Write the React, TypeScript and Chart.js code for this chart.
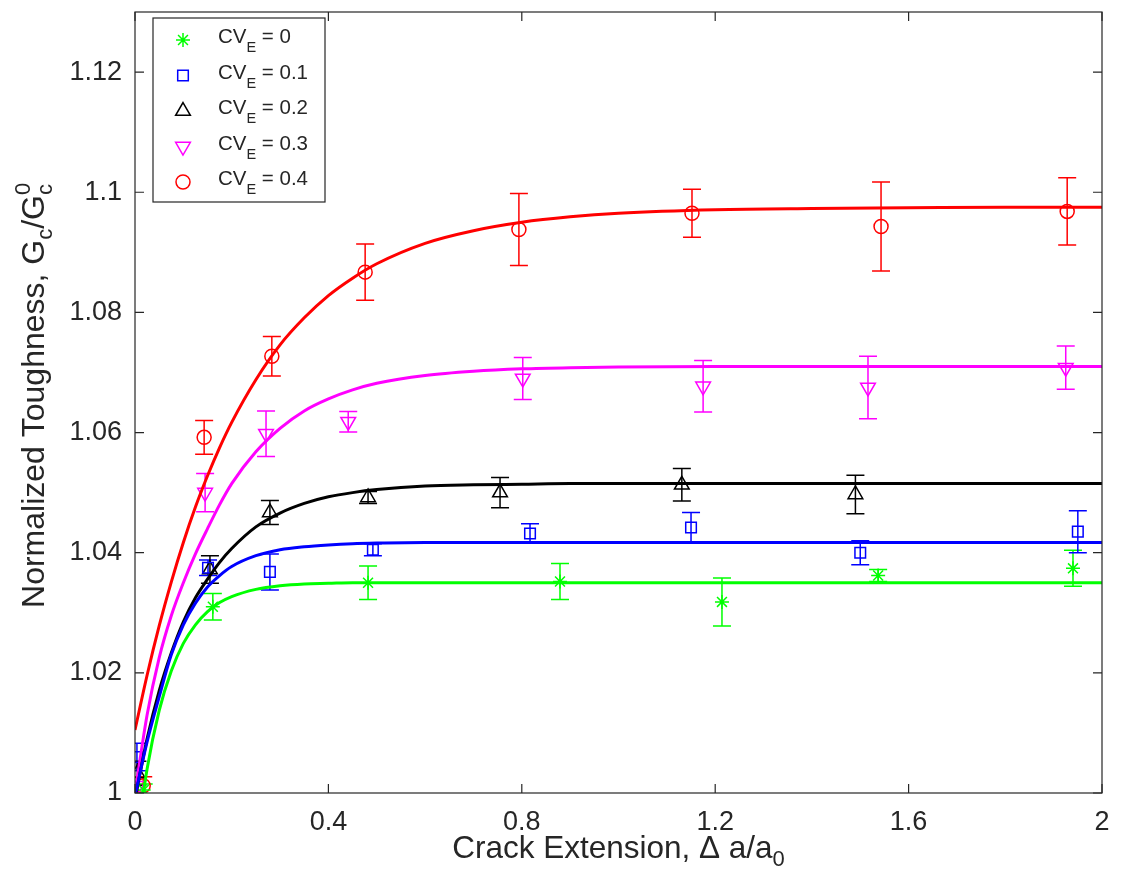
import React, { useEffect, useRef } from "react";
import { Chart, registerables } from "chart.js";

Chart.register(...registerables);

// ---- Data ----
const curveX = [0, 0.025, 0.05, 0.075, 0.1, 0.125, 0.15, 0.175, 0.2, 0.25, 0.3, 0.35, 0.4, 0.45, 0.5, 0.6, 0.7, 0.8, 0.9, 1.0, 1.2, 1.4, 1.6, 1.8, 2.0];

const fitCV0 = [0.990, 1.0040, 1.0137, 1.0203, 1.0249, 1.0280, 1.0302, 1.0317, 1.0327, 1.0339, 1.0345, 1.0348, 1.0349, 1.0350, 1.0350, 1.0350, 1.0350, 1.0350, 1.0350, 1.0350, 1.0350, 1.0350, 1.0350, 1.0350, 1.0350];
const fitCV1 = [0.9995, 1.0085, 1.0160, 1.0230, 1.0280, 1.0316, 1.0343, 1.0362, 1.0377, 1.0395, 1.0405, 1.0410, 1.0413, 1.0415, 1.0416, 1.0417, 1.0417, 1.0417, 1.0417, 1.0417, 1.0417, 1.0417, 1.0417, 1.0417, 1.0417];
const fitCV2 = [0.999, 1.0090, 1.0170, 1.0233, 1.0285, 1.0325, 1.0356, 1.0384, 1.0407, 1.0443, 1.0466, 1.0482, 1.0493, 1.0500, 1.0505, 1.0511, 1.0513, 1.0514, 1.0515, 1.0515, 1.0515, 1.0515, 1.0515, 1.0515, 1.0515];
const fitCV3 = [1.0000, 1.0130, 1.0225, 1.0295, 1.0350, 1.0398, 1.0440, 1.0480, 1.0515, 1.0568, 1.0607, 1.0636, 1.0656, 1.0671, 1.0682, 1.0695, 1.0702, 1.0706, 1.0708, 1.0709, 1.0710, 1.0710, 1.0710, 1.0710, 1.0710];
const fitCV4 = [1.0105, 1.0196, 1.0278, 1.0351, 1.0417, 1.0476, 1.0528, 1.0575, 1.0617, 1.0688, 1.0746, 1.0791, 1.0828, 1.0857, 1.0881, 1.0915, 1.0936, 1.0950, 1.0959, 1.0965, 1.0971, 1.0973, 1.0974, 1.0975, 1.0975];

const cv0X = [0.018, 0.161, 0.482, 0.879, 1.214, 1.537, 1.94];
const cv0Y = [1.0005, 1.0310, 1.0350, 1.0352, 1.0318, 1.0362, 1.0374];
const cv0Err = [0.001, 0.0022, 0.0028, 0.003, 0.004, 0.001, 0.003];

const cv1X = [0.004, 0.151, 0.279, 0.492, 0.817, 1.15, 1.50, 1.95];
const cv1Y = [1.0060, 1.0375, 1.0368, 1.0405, 1.0432, 1.0442, 1.0400, 1.0435];
const cv1Err = [0.0023, 0.0013, 0.003, 0.001, 0.0016, 0.0025, 0.002, 0.0035];

const cv2X = [0.005, 0.155, 0.279, 0.482, 0.755, 1.131, 1.49];
const cv2Y = [1.0033, 1.0372, 1.0467, 1.0492, 1.0500, 1.0513, 1.0497];
const cv2Err = [0.002, 0.0023, 0.002, 0.001, 0.0025, 0.0027, 0.0032];

const cv3X = [0.006, 0.145, 0.271, 0.441, 0.802, 1.175, 1.516, 1.925];
const cv3Y = [1.0012, 1.0500, 1.0598, 1.0618, 1.0690, 1.0677, 1.0675, 1.0708];
const cv3Err = [0.0015, 0.0032, 0.0038, 0.0017, 0.0035, 0.0043, 0.0052, 0.0036];

const cv4X = [0.017, 0.143, 0.283, 0.476, 0.794, 1.152, 1.543, 1.928];
const cv4Y = [1.0012, 1.0592, 1.0727, 1.0867, 1.0938, 1.0965, 1.0943, 1.0968];
const cv4Err = [0.0015, 0.0028, 0.0033, 0.0047, 0.006, 0.004, 0.0074, 0.0056];

const seriesValues = ["0", "0.1", "0.2", "0.3", "0.4"];
const xTicks = [0, 0.4, 0.8, 1.2, 1.6, 2];
const yTicks = [1, 1.02, 1.04, 1.06, 1.08, 1.1, 1.12];

const xTitleMain = "Crack Extension, \u0394 a/a";
const xTitleSub = "0";
const yTitleMain = "Normalized Toughness, G";

// ---- Styles ----
const FONT = "'Liberation Sans', Arial, Helvetica, sans-serif";
const AXIS = "#262626";
const colors = ["#00ff00", "#0000ff", "#000000", "#ff00ff", "#ff0000"];

type Series = {
  xs: number[]; ys: number[]; errs: number[]; fit: number[];
  color: string; style: string; r: number; rot: number;
};

const series: Series[] = [
  { xs: cv0X, ys: cv0Y, errs: cv0Err, fit: fitCV0, color: colors[0], style: "star", r: 7, rot: 0 },
  { xs: cv1X, ys: cv1Y, errs: cv1Err, fit: fitCV1, color: colors[1], style: "rect", r: 7.5, rot: 0 },
  { xs: cv2X, ys: cv2Y, errs: cv2Err, fit: fitCV2, color: colors[2], style: "triangle", r: 8.5, rot: 0 },
  { xs: cv3X, ys: cv3Y, errs: cv3Err, fit: fitCV3, color: colors[3], style: "triangle", r: 8.5, rot: 180 },
  { xs: cv4X, ys: cv4Y, errs: cv4Err, fit: fitCV4, color: colors[4], style: "circle", r: 7, rot: 0 },
];

function drawMarker(ctx: CanvasRenderingContext2D, s: Series, x: number, y: number) {
  ctx.save();
  ctx.strokeStyle = s.color;
  ctx.lineWidth = 1.5;
  ctx.beginPath();
  const r = s.r;
  if (s.style === "circle") {
    ctx.arc(x, y, r, 0, Math.PI * 2);
  } else if (s.style === "rect") {
    const h = r * Math.SQRT1_2;
    ctx.rect(x - h, y - h, 2 * h, 2 * h);
  } else if (s.style === "triangle") {
    let rad = (s.rot * Math.PI) / 180;
    ctx.moveTo(x + Math.sin(rad) * r, y - Math.cos(rad) * r);
    rad += (2 * Math.PI) / 3;
    ctx.lineTo(x + Math.sin(rad) * r, y - Math.cos(rad) * r);
    rad += (2 * Math.PI) / 3;
    ctx.lineTo(x + Math.sin(rad) * r, y - Math.cos(rad) * r);
    ctx.closePath();
  } else if (s.style === "star") {
    for (let k = 0; k < 4; k++) {
      const a = (k * Math.PI) / 4;
      ctx.moveTo(x - Math.cos(a) * r, y - Math.sin(a) * r);
      ctx.lineTo(x + Math.cos(a) * r, y + Math.sin(a) * r);
    }
  }
  ctx.stroke();
  ctx.restore();
}

type Part = { t: string; size: number; dy: number; adv?: boolean };

function partsWidth(ctx: CanvasRenderingContext2D, parts: Part[]) {
  let w = 0;
  for (const p of parts) {
    ctx.font = `${p.size}px ${FONT}`;
    if (p.adv !== false) w += ctx.measureText(p.t).width;
  }
  return w;
}

function drawParts(ctx: CanvasRenderingContext2D, parts: Part[], x: number, y: number) {
  let cx = x;
  ctx.textAlign = "left";
  ctx.textBaseline = "alphabetic";
  for (const p of parts) {
    ctx.font = `${p.size}px ${FONT}`;
    ctx.fillText(p.t, cx, y + p.dy);
    if (p.adv !== false) cx += ctx.measureText(p.t).width;
  }
}

const errorBarPlugin = {
  id: "errorBars",
  beforeDatasetsDraw(chart: any) {
    const { ctx, chartArea, scales } = chart;
    const xs = scales.x, ys = scales.y;
    ctx.save();
    ctx.beginPath();
    ctx.rect(chartArea.left, chartArea.top, chartArea.right - chartArea.left, chartArea.bottom - chartArea.top);
    ctx.clip();
    ctx.lineWidth = 1.5;
    for (const s of series) {
      ctx.strokeStyle = s.color;
      s.xs.forEach((xv, i) => {
        const px = xs.getPixelForValue(xv);
        const top = ys.getPixelForValue(s.ys[i] + s.errs[i]);
        const bot = ys.getPixelForValue(s.ys[i] - s.errs[i]);
        ctx.beginPath();
        ctx.moveTo(px, top); ctx.lineTo(px, bot);
        ctx.moveTo(px - 9, top); ctx.lineTo(px + 9, top);
        ctx.moveTo(px - 9, bot); ctx.lineTo(px + 9, bot);
        ctx.stroke();
      });
    }
    ctx.restore();
  },
};

const frameLegendPlugin = {
  id: "frameLegend",
  afterDraw(chart: any) {
    const { ctx, chartArea, scales } = chart;
    const { left, right, top, bottom } = chartArea;
    ctx.save();
    // box
    ctx.strokeStyle = AXIS;
    ctx.lineWidth = 1.2;
    ctx.strokeRect(left, top, right - left, bottom - top);
    // inward ticks
    const tl = 9;
    ctx.beginPath();
    for (const v of xTicks) {
      const px = scales.x.getPixelForValue(v);
      ctx.moveTo(px, bottom); ctx.lineTo(px, bottom - tl);
      ctx.moveTo(px, top); ctx.lineTo(px, top + tl);
    }
    for (const v of yTicks) {
      const py = scales.y.getPixelForValue(v);
      ctx.moveTo(left, py); ctx.lineTo(left + tl, py);
      ctx.moveTo(right, py); ctx.lineTo(right - tl, py);
    }
    ctx.stroke();

    // axis titles
    ctx.fillStyle = AXIS;
    const xParts: Part[] = [
      { t: xTitleMain, size: 31.5, dy: 0 },
      { t: xTitleSub, size: 22, dy: 8 },
    ];
    const xw = partsWidth(ctx, xParts);
    drawParts(ctx, xParts, (left + right) / 2 - xw / 2, 858);

    const yParts: Part[] = [
      { t: yTitleMain, size: 32, dy: 0 },
      { t: "c", size: 22, dy: 8 },
      { t: "/G", size: 32, dy: 0 },
      { t: "0", size: 22, dy: -14, adv: false },
      { t: "c", size: 22, dy: 8 },
    ];
    const yw = partsWidth(ctx, yParts);
    ctx.save();
    ctx.translate(44, 396);
    ctx.rotate(-Math.PI / 2);
    drawParts(ctx, yParts, -yw / 2, 0);
    ctx.restore();

    // legend
    const lx = 153, ly = 18, lw = 172, lh = 184;
    ctx.fillStyle = "#ffffff";
    ctx.fillRect(lx, ly, lw, lh);
    ctx.strokeStyle = AXIS;
    ctx.lineWidth = 1.2;
    ctx.strokeRect(lx, ly, lw, lh);
    series.forEach((s, i) => {
      const baseY = 43 + i * 35.5;
      drawMarker(ctx, s, 183, baseY - 3);
      ctx.fillStyle = AXIS;
      drawParts(ctx, [
        { t: "CV", size: 20.5, dy: 0 },
        { t: "E", size: 14.5, dy: 9 },
        { t: " = " + seriesValues[i], size: 20.5, dy: 0 },
      ], 218, baseY);
    });
    ctx.restore();
  },
};

export default function App() {
  const ref = useRef<HTMLCanvasElement>(null);
  useEffect(() => {
    document.body.style.margin = "0";
    const canvas = ref.current!;
    const datasets: any[] = [];
    series.forEach((s) => {
      datasets.push({
        type: "line",
        data: curveX.map((x, i) => ({ x, y: s.fit[i] })),
        borderColor: s.color,
        backgroundColor: s.color,
        borderWidth: 3,
        pointRadius: 0,
        showLine: true,
        fill: false,
        cubicInterpolationMode: "monotone",
      });
    });
    series.forEach((s) => {
      datasets.push({
        type: "scatter",
        data: s.xs.map((x, i) => ({ x, y: s.ys[i] })),
        borderColor: s.color,
        backgroundColor: "rgba(0,0,0,0)",
        pointStyle: s.style,
        pointRotation: s.rot,
        pointRadius: s.r,
        pointBorderWidth: 1.5,
        showLine: false,
      });
    });

    const chart = new Chart(canvas, {
      type: "scatter",
      data: { datasets },
      options: {
        responsive: false,
        animation: false,
        devicePixelRatio: 1,
        layout: { padding: { left: 0, top: 12, right: 19, bottom: 0 } },
        plugins: { legend: { display: false }, tooltip: { enabled: false } },
        scales: {
          x: {
            type: "linear",
            min: 0,
            max: 2,
            afterBuildTicks: (s: any) => { s.ticks = xTicks.map((v) => ({ value: v })); },
            afterFit: (s: any) => { s.height = 93; s.paddingLeft = 0; s.paddingRight = 0; },
            grid: { display: false, drawTicks: false },
            border: { display: false },
            ticks: {
              font: { family: FONT, size: 27 },
              color: AXIS,
              padding: 13,
              maxRotation: 0,
              autoSkip: false,
              callback: (v: any) => String(Number(Number(v).toFixed(2))),
            },
          },
          y: {
            type: "linear",
            min: 1,
            max: 1.13,
            afterBuildTicks: (s: any) => { s.ticks = yTicks.map((v) => ({ value: v })); },
            afterFit: (s: any) => { s.width = 135; s.paddingTop = 0; s.paddingBottom = 0; },
            grid: { display: false, drawTicks: false },
            border: { display: false },
            ticks: {
              font: { family: FONT, size: 27 },
              color: AXIS,
              padding: 13,
              autoSkip: false,
              callback: (v: any) => String(Number(Number(v).toFixed(2))),
            },
          },
        },
      } as any,
      plugins: [errorBarPlugin, frameLegendPlugin],
    });
    return () => chart.destroy();
  }, []);

  return (
    <div style={{ width: 1121, height: 886, background: "#fff" }}>
      <canvas ref={ref} width={1121} height={886} />
    </div>
  );
}
